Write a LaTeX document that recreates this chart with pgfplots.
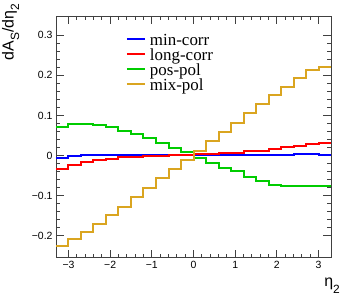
\documentclass[border=0pt]{standalone}
\usepackage{fontspec}
\setmainfont{Liberation Sans}
\newfontfamily\serif{Liberation Serif}
\usepackage{pgfplots}
\pgfplotsset{compat=1.18}
\definecolor{cblue}{RGB}{0,0,255}
\definecolor{cred}{RGB}{255,0,0}
\definecolor{cgreen}{RGB}{0,204,0}
\definecolor{corange}{RGB}{218,165,32}
\begin{document}
\begin{tikzpicture}
\useasboundingbox (-56bp,-49.3bp) rectangle (293bp,257.7bp);
\begin{axis}[
  scale only axis, width=275bp, height=241.7bp,
  xmin=-3.3, xmax=3.3, ymin=-0.255, ymax=0.348,
  axis line style={black!75, line width=0.8bp},
  tick align=inside, tick pos=both,
  major tick length=8bp, minor tick length=4bp,
  tick style={black!75, line width=0.7bp},
  xtick={-3,-2,-1,0,1,2,3}, xticklabels={−3,−2,−1,0,1,2,3},
  ytick={-0.2,-0.1,0,0.1,0.2,0.3}, yticklabels={−0.2,−0.1,0,0.1,0.2,0.3},
  minor x tick num=4, minor y tick num=4,
  ticklabel style={font=\fontsize{10.5}{12}\selectfont},
  ylabel={dA\raisebox{-0.35em}{\fontsize{12}{12}\selectfont S}/dη\raisebox{-0.35em}{\fontsize{12}{12}\selectfont 2}},
  ylabel style={font=\fontsize{16}{16}\selectfont, at={(rel axis cs:-0.165,1.05)}, anchor=east, inner sep=0pt},
  xlabel={η\raisebox{-0.45em}{\fontsize{12}{12}\selectfont 2}},
  xlabel style={font=\fontsize{16}{16}\selectfont, at={(rel axis cs:1.033,-0.084)}, anchor=north east, inner sep=0pt},
  legend style={at={(rel axis cs:0.2545,0.921)}, anchor=north west, draw=none, fill=none,
    inner sep=0pt, outer sep=0pt, row sep=0pt, column sep=4bp,
    font=\serif\fontsize{17}{17}\selectfont,
    nodes={inner sep=0pt, text height=10bp, text depth=5bp}},
  legend cell align=left,
  legend image code/.code={\draw[#1, line width=2bp] (0bp,3.5bp) -- (18bp,3.5bp);},
  every axis plot/.append style={const plot mark left, line width=2bp, no markers},
]
\addplot[cblue] coordinates {
(-3.3,-0.0055) (-3.0,-0.001) (-2.7,0.001) (-2.4,0.001) (-2.1,0.002) (-1.8,0.001)
(-1.5,0.001) (-1.2,0.002) (-0.9,0.002) (-0.6,0.001) (-0.3,0.002) (0.0,0.002)
(0.3,0.002) (0.6,0.002) (0.9,0.000) (1.2,0.000) (1.5,0.002) (1.8,0.002)
(2.1,0.002) (2.4,0.003) (2.7,0.004) (3.0,0.002) (3.3,0.002)};
\addlegendentry{min-corr}
\addplot[cred] coordinates {
(-3.3,-0.034) (-3.0,-0.024) (-2.7,-0.015) (-2.4,-0.011) (-2.1,-0.008) (-1.8,-0.005)
(-1.5,-0.003) (-1.2,-0.001) (-0.9,-0.001) (-0.6,0.000) (-0.3,0.002) (0.0,0.003)
(0.3,0.004) (0.6,0.006) (0.9,0.005) (1.2,0.010) (1.5,0.012) (1.8,0.015)
(2.1,0.020) (2.4,0.024) (2.7,0.028) (3.0,0.031) (3.3,0.031)};
\addlegendentry{long-corr}
\addplot[cgreen] coordinates {
(-3.3,0.072) (-3.0,0.078) (-2.7,0.078) (-2.4,0.076) (-2.1,0.070) (-1.8,0.062)
(-1.5,0.054) (-1.2,0.044) (-0.9,0.031) (-0.6,0.019) (-0.3,0.008) (0.0,-0.006)
(0.3,-0.018) (0.6,-0.031) (0.9,-0.039) (1.2,-0.054) (1.5,-0.063) (1.8,-0.073)
(2.1,-0.076) (2.4,-0.076) (2.7,-0.075) (3.0,-0.077) (3.3,-0.077)};
\addlegendentry{pos-pol}
\addplot[corange] coordinates {
(-3.3,-0.226) (-3.0,-0.209) (-2.7,-0.190) (-2.4,-0.170) (-2.1,-0.149) (-1.8,-0.129)
(-1.5,-0.104) (-1.2,-0.080) (-0.9,-0.057) (-0.6,-0.034) (-0.3,-0.011) (0.0,0.011)
(0.3,0.036) (0.6,0.058) (0.9,0.081) (1.2,0.105) (1.5,0.128) (1.8,0.151)
(2.1,0.171) (2.4,0.194) (2.7,0.213) (3.0,0.222) (3.3,0.222)};
\addlegendentry{mix-pol}
\end{axis}
\end{tikzpicture}
\end{document}
